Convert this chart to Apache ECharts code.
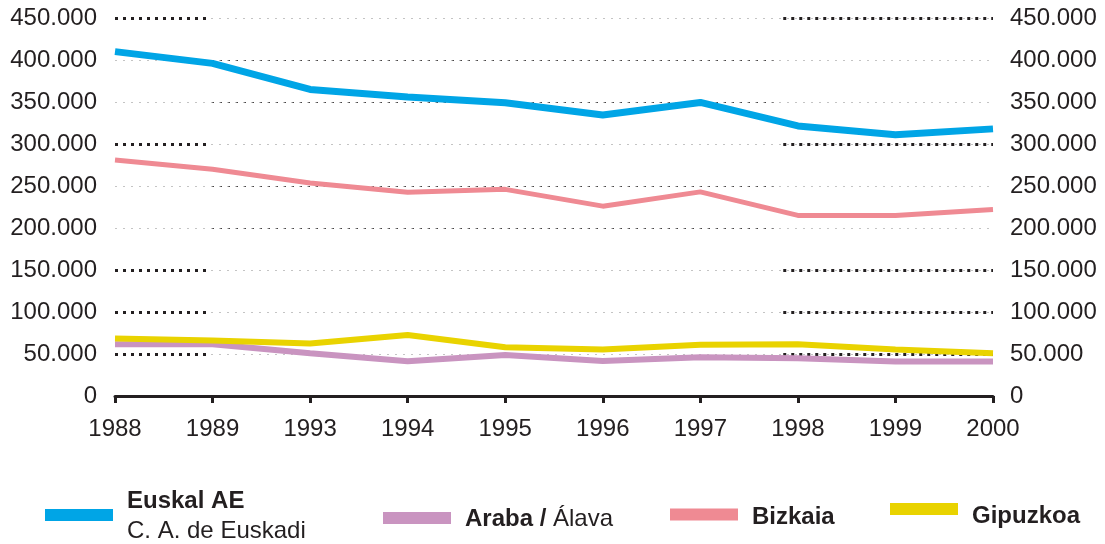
<!DOCTYPE html>
<html>
<head>
<meta charset="utf-8">
<script src="https://cdn.jsdelivr.net/npm/echarts@6/dist/echarts.min.js"></script>
<style>
html,body{margin:0;padding:0;background:#fff;}
#chart{width:1105px;height:544px;}
</style>
</head>
<body>
<div id="chart"></div>
<script>
// ---- Data ----
const years = ['1988','1989','1993','1994','1995','1996','1997','1998','1999','2000'];
const euskalAE = [410000, 396000, 365000, 356000, 349000, 334500, 349500, 321500, 311000, 318000];
const bizkaia  = [281000, 270000, 253500, 242500, 246000, 226000, 243000, 215000, 215000, 222000];
const gipuzkoa = [68500, 66000, 62500, 72500, 58000, 55500, 61000, 61500, 55500, 50800];
const araba    = [61500, 61500, 50800, 41500, 48800, 41700, 46000, 45000, 41000, 41000];
const yTicksMax = 450000;
const yTickStep = 50000;
const boldGridLevels = [450000, 300000, 150000, 100000, 50000];
const fineGridLevels = [400000, 350000, 250000, 200000];

// ---- Styling ----
const TXT = '#231f20';
const FONT = '"Liberation Sans", Arial, Helvetica, sans-serif';
const fmt = v => String(v).replace(/\B(?=(\d{3})+(?!\d))/g, '.');

// gridline segments (x in category-index units on hidden value axis)
const gridLines = [];
for (let v = yTickStep; v <= yTicksMax; v += yTickStep) {
  gridLines.push([{coord:[0, v], lineStyle:{color:'#c4c4c4', width:1, type:[2,6]}}, {coord:[9, v]}]);
}
boldGridLevels.forEach(v => {
  gridLines.push([{coord:[0, v], lineStyle:{color:TXT, width:3, type:[3,5]}}, {coord:[0.95, v]}]);
  gridLines.push([{coord:[6.85, v], lineStyle:{color:TXT, width:3, type:[3,5]}}, {coord:[9, v]}]);
});
fineGridLevels.forEach(v => {
  gridLines.push([{coord:[1.0, v], lineStyle:{color:TXT, width:1, type:[1.3,6.7]}}, {coord:[6.75, v]}]);
});

const chart = echarts.init(document.getElementById('chart'), null, {renderer:'canvas'});

const yAxisBase = {
  type:'value', min:0, max:yTicksMax, interval:yTickStep,
  axisLine:{show:false}, axisTick:{show:false}, splitLine:{show:false},
  axisLabel:{color:TXT, fontSize:24, fontFamily:FONT, formatter:fmt}
};

function legendText(pad) {
  return {
    color:TXT, fontFamily:FONT, fontSize:24, padding:pad,
    rich:{
      b:{fontWeight:'bold', fontSize:24, color:TXT, fontFamily:FONT, lineHeight:30},
      r:{fontWeight:'normal', fontSize:24, color:TXT, fontFamily:FONT, lineHeight:30}
    }
  };
}
const legendBase = {
  orient:'horizontal', icon:'rect', itemWidth:68, itemHeight:12, itemGap:10,
  padding:0, selectedMode:false
};

chart.setOption({
  animation:false,
  backgroundColor:'#fff',
  grid:{left:115, right:112, top:18, bottom:148, containLabel:false},
  xAxis:[
    {
      type:'category', data:years, boundaryGap:false,
      axisLine:{lineStyle:{color:TXT, width:3}},
      axisTick:{length:7, lineStyle:{color:TXT, width:3}},
      axisLabel:{color:TXT, fontSize:24, fontFamily:FONT, margin:21}
    },
    {type:'value', min:0, max:9, show:false}
  ],
  yAxis:[
    Object.assign({}, yAxisBase, {position:'left', axisLabel:Object.assign({}, yAxisBase.axisLabel, {margin:18})}),
    Object.assign({}, yAxisBase, {position:'right', axisLabel:Object.assign({}, yAxisBase.axisLabel, {margin:17})})
  ],
  legend:[
    Object.assign({}, legendBase, {left:45, top:489, data:['Euskal AE'], textStyle:legendText([2,0,0,9]),
      formatter:() => '{b|Euskal AE}\n{r|C. A. de Euskadi}'}),
    Object.assign({}, legendBase, {left:383, top:507, data:['Araba / Álava'], textStyle:legendText([2,0,0,9]),
      formatter:() => '{b|Araba /} {r|Álava}'}),
    Object.assign({}, legendBase, {left:670, top:505, data:['Bizkaia'], textStyle:legendText([5,0,0,9]),
      formatter:() => '{b|Bizkaia}'}),
    Object.assign({}, legendBase, {left:890, top:503, data:['Gipuzkoa'], textStyle:legendText([14,0,0,9]),
      formatter:() => '{b|Gipuzkoa}'})
  ],
  series:[
    {
      name:'grid', type:'line', xAxisIndex:1, yAxisIndex:0, data:[], z:1, silent:true,
      markLine:{silent:true, symbol:['none','none'], label:{show:false}, z:1,
        animation:false, emphasis:{disabled:true}, data:gridLines}
    },
    {name:'Araba / Álava', type:'line', data:araba, symbol:'none', z:3,
      lineStyle:{color:'#c994c0', width:6}, itemStyle:{color:'#c994c0'}},
    {name:'Gipuzkoa', type:'line', data:gipuzkoa, symbol:'none', z:4,
      lineStyle:{color:'#e9d300', width:6}, itemStyle:{color:'#e9d300'}},
    {name:'Bizkaia', type:'line', data:bizkaia, symbol:'none', z:5,
      lineStyle:{color:'#ef8a93', width:5}, itemStyle:{color:'#ef8a93'}},
    {name:'Euskal AE', type:'line', data:euskalAE, symbol:'none', z:6,
      lineStyle:{color:'#00a5e6', width:7}, itemStyle:{color:'#00a5e6'}}
  ]
});
</script>
</body>
</html>
